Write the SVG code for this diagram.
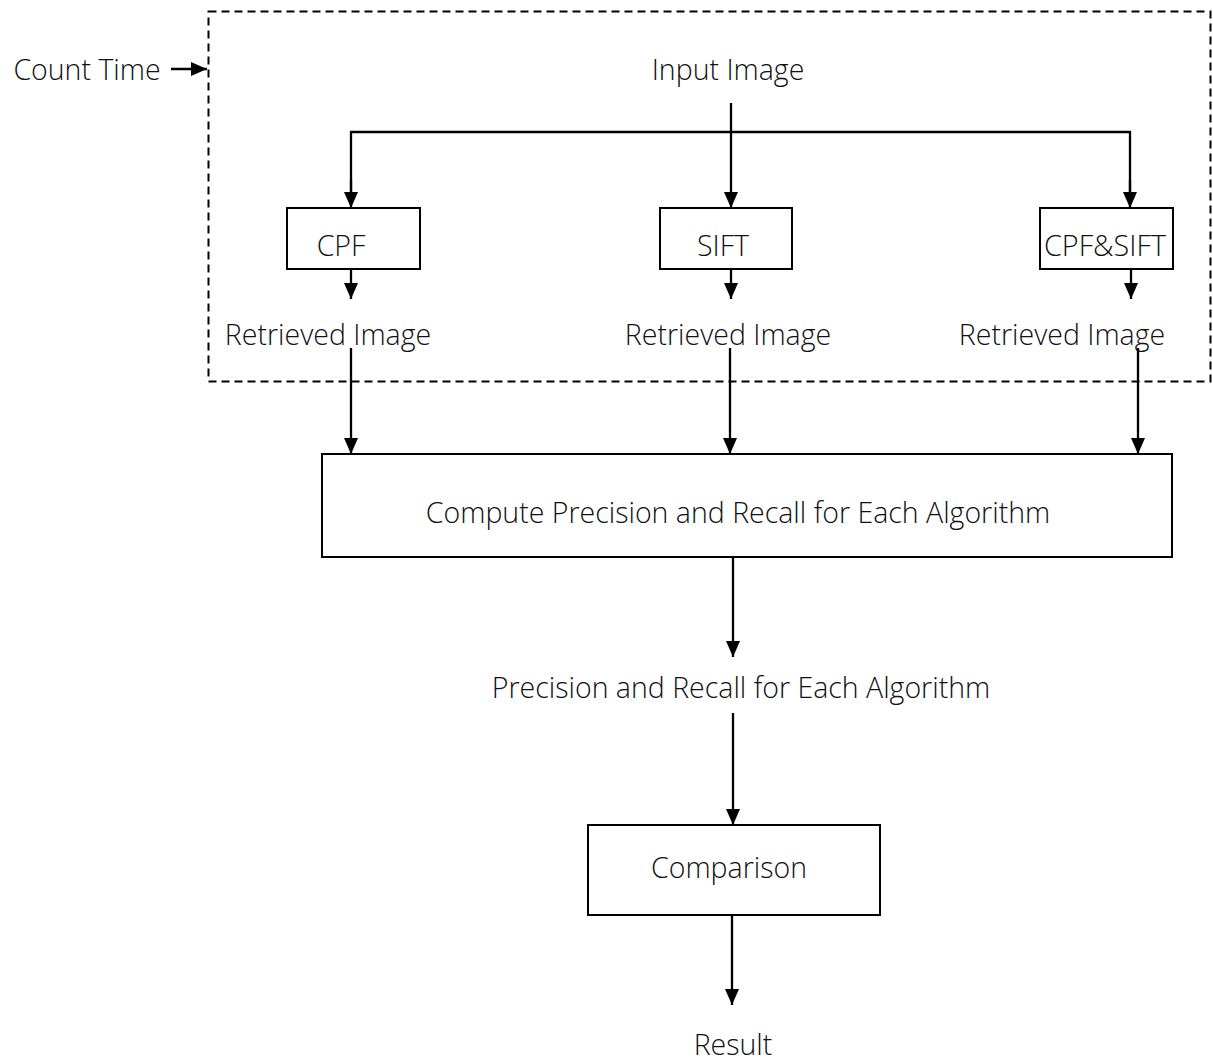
<svg xmlns="http://www.w3.org/2000/svg" width="1213" height="1061" viewBox="0 0 1213 1061">
<style>
text{font-family:"Open Sans","Noto Sans","DejaVu Sans",sans-serif;font-size:28.5px;font-weight:300;fill:#111;text-anchor:middle}
.box{fill:#fff;stroke:#000;stroke-width:2}
.ln{stroke:#000;stroke-width:2.3;fill:none}
.arr{stroke:#000;stroke-width:2.3;fill:none;marker-end:url(#ah)}
</style>
<defs>
<marker id="ah" markerWidth="16" markerHeight="14" refX="16" refY="7" orient="auto" markerUnits="userSpaceOnUse" viewBox="0 0 16 14">
<path d="M0,0 L16,7 L0,14 Z" fill="#000"/>
</marker>
</defs>
<rect id="timing-region" x="208.5" y="11.5" width="1002" height="370" fill="none" stroke="#000" stroke-width="2" stroke-dasharray="8,5"/>
<g id="count-time"><text x="87" y="80">Count Time</text></g>
<g id="input-image"><text x="728" y="80">Input Image</text></g>
<g id="cpf"><rect class="box" x="287" y="208" width="133" height="61"/><text x="341" y="256">CPF</text></g>
<g id="sift"><rect class="box" x="660" y="208" width="132" height="61"/><text x="723" y="256">SIFT</text></g>
<g id="cpfsift"><rect class="box" x="1040" y="208" width="133" height="61"/><text x="1105" y="256" textLength="122" lengthAdjust="spacingAndGlyphs">CPF&amp;SIFT</text></g>
<g id="retrieved-1"><text x="328" y="345">Retrieved Image</text></g>
<g id="retrieved-2"><text x="728" y="345">Retrieved Image</text></g>
<g id="retrieved-3"><text x="1062" y="345">Retrieved Image</text></g>
<g id="compute"><rect class="box" x="322" y="454" width="850" height="103"/><text x="738" y="523">Compute Precision and Recall for Each Algorithm</text></g>
<g id="pr-result"><text x="741" y="698">Precision and Recall for Each Algorithm</text></g>
<g id="comparison"><rect class="box" x="588" y="825" width="292" height="90"/><text x="729" y="878">Comparison</text></g>
<g id="result"><text x="733" y="1055">Result</text></g>
<g id="connectors">
<line class="arr" x1="171" y1="69" x2="207" y2="69"/>
<polyline class="ln" points="351,194 351,132 1130,132 1130,194"/>
<line class="arr" x1="731" y1="103" x2="731" y2="208"/>
<line class="arr" x1="351" y1="180" x2="351" y2="208"/>
<line class="arr" x1="1130" y1="180" x2="1130" y2="208"/>
<line class="arr" x1="351" y1="269" x2="351" y2="299"/>
<line class="arr" x1="731" y1="269" x2="731" y2="299"/>
<line class="arr" x1="1131" y1="269" x2="1131" y2="299"/>
<line class="arr" x1="351" y1="348" x2="351" y2="454"/>
<line class="arr" x1="730" y1="348" x2="730" y2="454"/>
<line class="arr" x1="1138" y1="348" x2="1138" y2="454"/>
<line class="arr" x1="733" y1="557" x2="733" y2="657"/>
<line class="arr" x1="733" y1="713" x2="733" y2="825"/>
<line class="arr" x1="732" y1="915" x2="732" y2="1005"/>
</g>
</svg>
